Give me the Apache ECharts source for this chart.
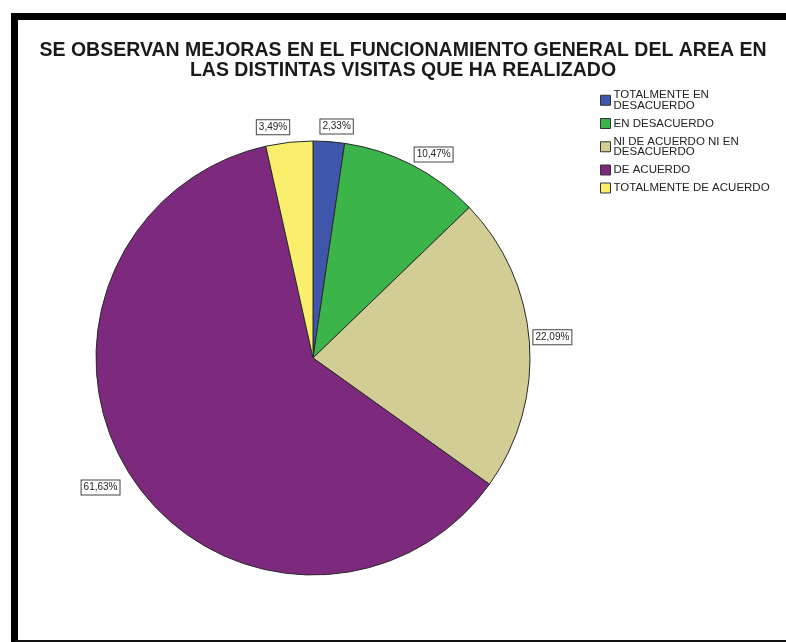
<!DOCTYPE html>
<html>
<head>
<meta charset="utf-8">
<script src="https://cdn.jsdelivr.net/npm/echarts@6/dist/echarts.min.js"></script>
<style>
  html, body { margin: 0; padding: 0; background: #fdfdfd; }
  #chart { position: absolute; left: 0; top: 0; width: 786px; height: 642px; }
  #frame {
    position: absolute; left: 11px; top: 13px; width: 790px; height: 620px;
    border-left: 7px solid #000; border-top: 7px solid #000; border-bottom: 3px solid #111;
    pointer-events: none;
  }
</style>
</head>
<body>
<div id="chart"></div>
<div id="frame"></div>
<script>
// Survey answers, in the order they are drawn clockwise from 12 o'clock
const categories = [
  'TOTALMENTE EN\nDESACUERDO',
  'EN DESACUERDO',
  'NI DE ACUERDO NI EN\nDESACUERDO',
  'DE ACUERDO',
  'TOTALMENTE DE ACUERDO'
];
const percentages = [2.33, 10.47, 22.09, 61.63, 3.49];
const sliceColors = ['#3f56ad', '#3bb54a', '#d2cd95', '#7d2a7e', '#f9ef6c'];
const titleLines = [
  'SE OBSERVAN MEJORAS EN EL FUNCIONAMIENTO GENERAL DEL AREA EN',
  'LAS DISTINTAS VISITAS QUE HA REALIZADO'
];

const fontMain = '"Liberation Sans", Arial, sans-serif';

const clamp = v => Math.max(-1, Math.min(1, v));

const chart = echarts.init(document.getElementById('chart'), null, { renderer: 'canvas' });

chart.setOption({
  backgroundColor: '#ffffff',
  animation: false,
  title: {
    text: titleLines.join('\n'),
    left: 403,
    top: 41,
    padding: 0,
    textAlign: 'center',
    textStyle: {
      fontFamily: fontMain,
      fontSize: 19.5,
      fontWeight: 'bold',
      lineHeight: 20,
      color: '#1a1a1a'
    }
  },
  legend: {
    orient: 'vertical',
    left: 595,
    top: 84,
    itemWidth: 10,
    itemHeight: 10,
    itemGap: 6,
    icon: 'rect',
    selectedMode: false,
    data: categories,
    itemStyle: { borderColor: '#333', borderWidth: 1 },
    textStyle: {
      fontFamily: fontMain,
      fontSize: 11.5,
      lineHeight: 10.5,
      color: '#222',
      padding: [0, 0, 0, -2]
    }
  },
  series: [{
    type: 'pie',
    center: [313, 358],
    radius: 217,
    startAngle: 90,
    clockwise: true,
    avoidLabelOverlap: false,
    data: categories.map((name, i) => ({
      name,
      value: percentages[i],
      itemStyle: { color: sliceColors[i] }
    })),
    itemStyle: { borderColor: '#2a2a2a', borderWidth: 1 },
    label: {
      show: true,
      position: 'outside',
      formatter: p => p.value.toFixed(2).replace('.', ',') + '%',
      fontFamily: fontMain,
      fontSize: 10,
      color: '#222',
      backgroundColor: '#fff',
      borderColor: '#444',
      borderWidth: 1,
      padding: [2, 2, 2, 2]
    },
    // guide lines are kept invisible; their geometry only anchors the boxes
    labelLine: { show: true, length: 3, length2: 0, lineStyle: { opacity: 0 } },
    // place each box against the rim, pushed outward along the slice's radial direction
    labelLayout: function (params) {
      const pts = params.labelLinePoints;
      if (!pts || pts.length < 2) return {};
      let ux = pts[1][0] - pts[0][0];
      let uy = pts[1][1] - pts[0][1];
      const len = Math.hypot(ux, uy) || 1;
      ux /= len; uy /= len;
      const w = params.labelRect.width;
      const h = params.labelRect.height;
      const gapY = Math.abs(uy) > 0.95 ? 4 * Math.sign(uy) : 0;
      const gapX = ux < 0 ? -4 + 6 * ux : 0;
      return {
        x: pts[1][0] + gapX + clamp(ux * 6) * w / 2,
        y: pts[1][1] + gapY + clamp(uy * 8) * h / 2,
        align: 'center',
        verticalAlign: 'middle'
      };
    },
    emphasis: { disabled: true }
  }]
});
</script>
</body>
</html>
